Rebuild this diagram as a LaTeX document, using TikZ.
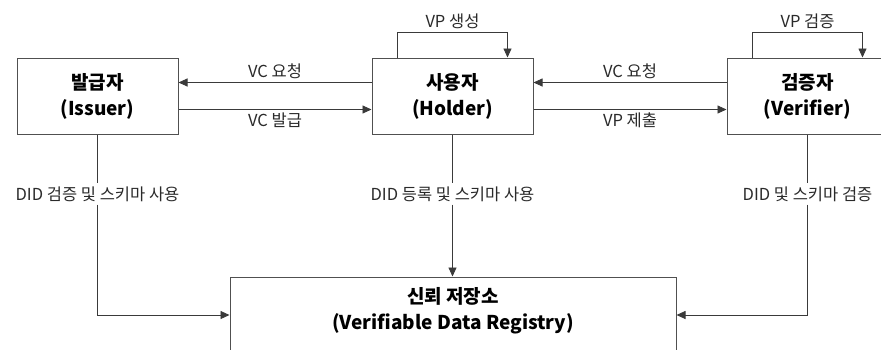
\documentclass[tikz,border=0pt]{standalone}
\usepackage{fontspec}
\setmainfont{Noto Sans CJK KR}
\usetikzlibrary{arrows.meta}
\definecolor{linegray}{HTML}{3A3A3A}
\definecolor{boxgray}{HTML}{505050}
\definecolor{textgray}{HTML}{2A2A2A}

\begin{document}
\begin{tikzpicture}[x=1pt, y=-1pt,
  box/.style={draw=boxgray, line width=1pt, minimum width=161pt, minimum height=76pt, align=center, inner sep=0pt, font=\fontsize{19}{26}\selectfont\bfseries},
  lbl/.style={text=textgray, inner sep=3pt, font=\fontsize{16.5}{19}\selectfont},
  arrow/.style={-{Triangle[length=9pt,width=8pt]}, draw=linegray, line width=0.9pt},
  link/.style={draw=linegray, line width=0.9pt}
]
  \clip (0,0) rectangle (881,349);

  % Actors
  \node[box] (issuer) at (97.5,96) {발급자\\(Issuer)};
  \node[box] (holder) at (452.5,96) {사용자\\(Holder)};
  \node[box] (verifier) at (807.5,96) {검증자\\(Verifier)};

  % Registry
  \node[box, minimum width=446pt] (registry) at (453,315) {신뢰 저장소\\(Verifiable Data Registry)\rule[-13pt]{0pt}{13pt}};

  % Issuer <-> Holder
  \draw[arrow] ([yshift=13.5pt]holder.west) -- node[lbl, above] {VC 요청} ([yshift=13.5pt]issuer.east);
  \draw[arrow] ([yshift=-13.5pt]issuer.east) -- node[lbl, below] {VC 발급} ([yshift=-13.5pt]holder.west);

  % Holder <-> Verifier
  \draw[arrow] ([yshift=13.5pt]verifier.west) -- node[lbl, above] {VC 요청} ([yshift=13.5pt]holder.east);
  \draw[arrow] ([yshift=-13.5pt]holder.east) -- node[lbl, below] {VP 제출} ([yshift=-13.5pt]verifier.west);

  % Self loops
  \draw[arrow] ([xshift=-55pt]holder.north) -- ++(0,-25) -| node[pos=0.25, lbl, above] {VP 생성} ([xshift=55pt]holder.north);
  \draw[arrow] ([xshift=-55pt]verifier.north) -- ++(0,-25) -| node[pos=0.25, lbl, above] {VP 검증} ([xshift=55pt]verifier.north);

  % Links to the registry
  \node[lbl] (didissuer) at (97.5,194) {DID 검증 및 스키마 사용};
  \node[lbl] (didholder) at (452.5,194) {DID 등록 및 스키마 사용};
  \node[lbl] (didverifier) at (807.5,194) {DID 및 스키마 검증};
  \draw[link] (issuer) -- (didissuer);
  \draw[link] (holder) -- (didholder);
  \draw[link] (verifier) -- (didverifier);
  \draw[arrow] (didissuer) |- (registry);
  \draw[arrow] (didholder) -- (didholder |- registry.north);
  \draw[arrow] (didverifier) |- (registry);
\end{tikzpicture}
\end{document}
